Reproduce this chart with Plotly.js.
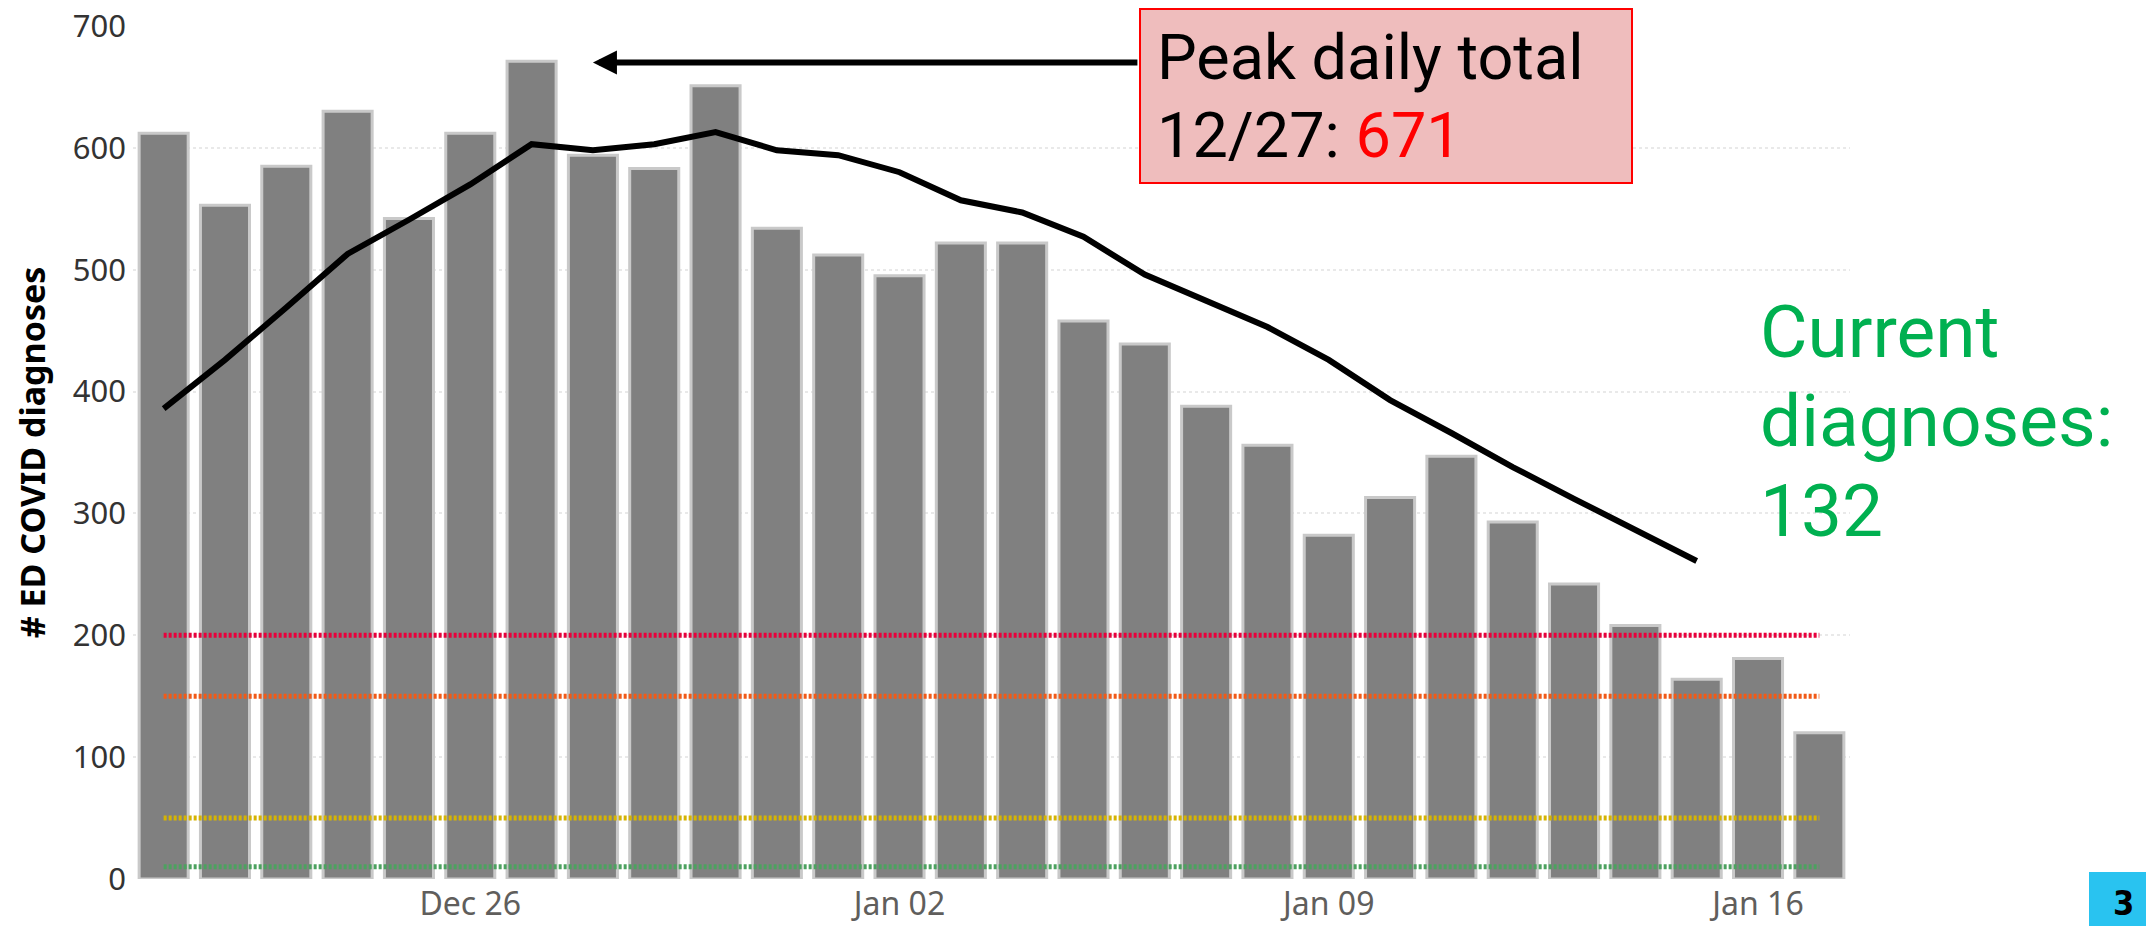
<!DOCTYPE html>
<html>
<head>
<meta charset="utf-8">
<script src="https://cdn.plot.ly/plotly-3.0.1.min.js"></script>
<style>
  html, body { margin: 0; padding: 0; background: #ffffff; }
  #chart { width: 2146px; height: 926px; }
</style>
</head>
<body>
<div id="chart"></div>
<script>
// ---- Data ----
const barDates = [
  '2020-12-21','2020-12-22','2020-12-23','2020-12-24','2020-12-25','2020-12-26','2020-12-27',
  '2020-12-28','2020-12-29','2020-12-30','2020-12-31','2021-01-01','2021-01-02','2021-01-03',
  '2021-01-04','2021-01-05','2021-01-06','2021-01-07','2021-01-08','2021-01-09','2021-01-10',
  '2021-01-11','2021-01-12','2021-01-13','2021-01-14','2021-01-15','2021-01-16','2021-01-17'
];
const dailyDiagnoses = [
  612, 553, 585, 630, 542, 612, 671,
  594, 583, 651, 534, 512, 495, 522,
  522, 458, 439, 388, 356, 282, 313,
  347, 293, 242, 208, 164, 181, 120
];
const avgDates = barDates.slice(0, 26);
const rollingAverage = [
  386, 426, 469, 513, 541, 570, 603,
  598, 603, 613, 598, 594, 580, 557,
  547, 527, 496, 474, 453, 426, 393,
  366, 338, 312, 287, 261
];
const thresholdLevels = [200, 150, 50, 10];
const thresholdColors = ['#e8003c', '#f25a17', '#d6b400', '#4ca25f'];
const xTickVals = ['2020-12-26', '2021-01-02', '2021-01-09', '2021-01-16'];
const xTickText = ['Dec 26', 'Jan 02', 'Jan 09', 'Jan 16'];
const yTickVals = [0, 100, 200, 300, 400, 500, 600, 700];
const peakDate = '2020-12-28';
const peakLabelValue = 671;
const peakLabelDate = '12/27';
const currentValue = 132;

// ---- Traces ----
const traces = [];
traces.push({
  type: 'bar',
  x: barDates,
  y: dailyDiagnoses,
  marker: { color: '#808080', line: { color: '#c9c9c9', width: 3 } },
  hoverinfo: 'skip'
});
thresholdLevels.forEach((lvl, i) => {
  traces.push({
    type: 'scatter',
    mode: 'lines',
    x: [barDates[0], barDates[barDates.length - 1]],
    y: [lvl, lvl],
    line: { color: thresholdColors[i], width: 5, dash: '3px,2px' },
    hoverinfo: 'skip'
  });
});
traces.push({
  type: 'scatter',
  mode: 'lines',
  x: avgDates,
  y: rollingAverage,
  line: { color: '#000000', width: 6 },
  hoverinfo: 'skip'
});

// ---- Layout ----
const L = 133, R = 296, T = 26, B = 47, W = 2146, H = 926;
const pw = W - L - R, ph = H - T - B;
const px = X => (X - L) / pw;
const py = Y => (H - B - Y) / ph;

const roboto = 'Roboto, "Noto Sans", sans-serif';
const green = '#00b050';

const layout = {
  width: W, height: H,
  margin: { l: L, r: R, t: T, b: B, pad: 0 },
  paper_bgcolor: '#ffffff',
  plot_bgcolor: '#ffffff',
  showlegend: false,
  bargap: 0.2,
  xaxis: {
    type: 'date',
    range: ['2020-12-20 12:00', '2021-01-17 12:00'],
    tickvals: xTickVals,
    ticktext: xTickText,
    showgrid: false, zeroline: false, showline: false, ticks: '',
    tickfont: { family: '"Noto Sans", sans-serif', size: 32, color: '#605e5c' },
    ticklabelstandoff: 3
  },
  yaxis: {
    range: [0, 700],
    tickvals: yTickVals,
    showgrid: true, gridcolor: '#e9e9e9', gridwidth: 2, griddash: 'dot',
    zeroline: false, showline: false, ticks: '',
    tickfont: { family: '"Noto Sans", sans-serif', size: 31, color: '#333333' },
    ticklabelstandoff: 6,
    automargin: false,
    title: {
      text: '<b># ED COVID diagnoses</b>',
      font: { family: '"Noto Sans", sans-serif', size: 34, color: '#000000' },
      standoff: 16
    }
  },
  shapes: [
    { type: 'rect', xref: 'paper', yref: 'paper', layer: 'above',
      x0: px(1140), x1: px(1632), y0: py(183), y1: py(9),
      fillcolor: '#efbdbd', line: { color: '#ff0000', width: 2 } },
    { type: 'rect', xref: 'paper', yref: 'paper', layer: 'above',
      x0: px(2089), x1: px(2150), y0: py(930), y1: py(872),
      fillcolor: '#29c3f0', line: { width: 0 } }
  ],
  annotations: [
    { x: peakDate, y: 670, xref: 'x', yref: 'y', text: '', showarrow: true,
      ax: 546, ay: 0, axref: 'pixel', ayref: 'pixel',
      arrowhead: 2, arrowsize: 0.8, arrowwidth: 6, arrowcolor: '#000000', standoff: 0 },
    { xref: 'paper', yref: 'paper', x: px(1155), y: py(58), xanchor: 'left', yanchor: 'middle',
      text: 'Peak daily total', showarrow: false,
      font: { family: roboto, size: 63, color: '#000000' } },
    { xref: 'paper', yref: 'paper', x: px(1155), y: py(135), xanchor: 'left', yanchor: 'middle',
      text: peakLabelDate + ': <span style="color:#ff0000">' + peakLabelValue + '</span>', showarrow: false,
      font: { family: roboto, size: 63, color: '#000000' } },
    { xref: 'paper', yref: 'paper', x: px(1758), y: py(332), xanchor: 'left', yanchor: 'middle',
      text: 'Current', showarrow: false,
      font: { family: roboto, size: 73, color: green } },
    { xref: 'paper', yref: 'paper', x: px(1758), y: py(421), xanchor: 'left', yanchor: 'middle',
      text: 'diagnoses:', showarrow: false,
      font: { family: roboto, size: 73, color: green } },
    { xref: 'paper', yref: 'paper', x: px(1758), y: py(511), xanchor: 'left', yanchor: 'middle',
      text: String(currentValue), showarrow: false,
      font: { family: roboto, size: 73, color: green } },
    { xref: 'paper', yref: 'paper', x: px(2123), y: py(903), xanchor: 'center', yanchor: 'middle',
      text: '<b>3</b>', showarrow: false,
      font: { family: '"DejaVu Sans Condensed", "Liberation Sans Narrow", "DejaVu Sans", sans-serif', size: 34, color: '#000000' } }
  ]
};

Plotly.newPlot('chart', traces, layout, { staticPlot: true, displayModeBar: false });
</script>
</body>
</html>
